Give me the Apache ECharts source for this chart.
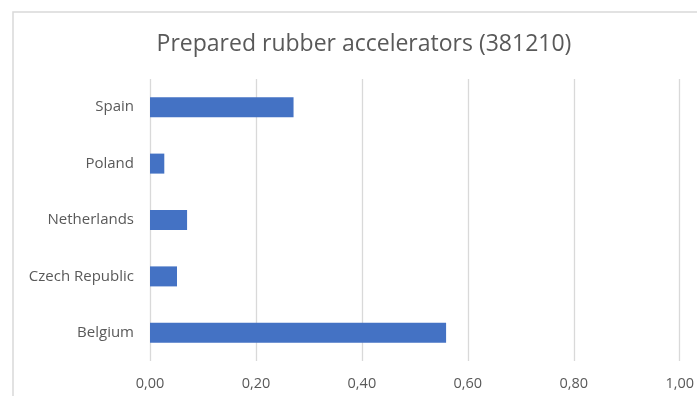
<!DOCTYPE html>
<html>
<head>
<meta charset="utf-8">
<script src="https://cdn.jsdelivr.net/npm/echarts@6/dist/echarts.min.js"></script>
<style>
html,body{margin:0;padding:0;background:#fff;}
#chart{width:697px;height:396px;}
</style>
</head>
<body>
<div id="chart"></div>
<script>
var titleText = 'Prepared rubber accelerators (381210)';
var categories = ['Belgium', 'Czech Republic', 'Netherlands', 'Poland', 'Spain'];
var values = [0.559, 0.051, 0.070, 0.027, 0.271];
var xMin = 0, xMax = 1, xInterval = 0.2;

var chart = echarts.init(document.getElementById('chart'));
chart.setOption({
  animation: false,
  backgroundColor: '#ffffff',
  graphic: [{
    type: 'rect',
    shape: {x: 13, y: 12, width: 720, height: 420},
    style: {fill: 'none', stroke: '#d9d9d9', lineWidth: 1.5},
    silent: true
  }],
  title: {
    text: titleText,
    left: 359,
    textAlign: 'center',
    top: 28,
    textStyle: {fontFamily: 'Open Sans', fontSize: 23, fontWeight: 'normal', color: '#595959'}
  },
  grid: {left: 150, right: 17, top: 79, bottom: 35, containLabel: false},
  xAxis: {
    type: 'value',
    min: xMin, max: xMax, interval: xInterval,
    axisLine: {show: false},
    axisTick: {show: false},
    splitLine: {show: true, lineStyle: {color: '#d9d9d9', width: 1.3}},
    axisLabel: {
      margin: 15,
      fontFamily: 'Open Sans', fontSize: 14.5, color: '#595959',
      formatter: function (v) { return v.toFixed(2).replace('.', ','); }
    }
  },
  yAxis: {
    type: 'category',
    data: categories,
    axisLine: {show: false},
    axisTick: {show: false},
    axisLabel: {margin: 16, fontFamily: 'Open Sans', fontSize: 15, color: '#595959'}
  },
  series: [{
    type: 'bar',
    data: values,
    barWidth: 20,
    itemStyle: {color: '#4472C4'}
  }]
});
</script>
</body>
</html>
